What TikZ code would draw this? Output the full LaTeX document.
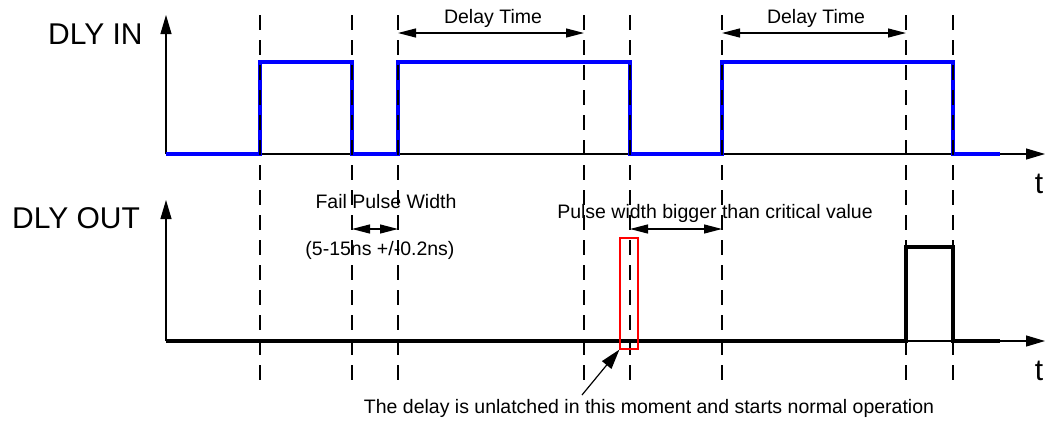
\documentclass[tikz,border=0pt]{standalone}
\usepackage{fontspec}
\setmainfont{Liberation Sans}
\usetikzlibrary{arrows.meta}

\begin{document}
\begin{tikzpicture}[x=1pt,y=-1pt,
    axis/.style={-{Triangle[length=19pt,width=11pt]},line width=1.2pt},
    marker/.style={dash pattern=on 15pt off 10pt,line width=1.2pt},
    sigin/.style={blue,line width=3.5pt},
    sigout/.style={black,line width=3.5pt},
    span/.style={{Triangle[length=18pt,width=9pt]}-{Triangle[length=18pt,width=9pt]},line width=1.2pt},
    note/.style={-{Triangle[length=20pt,width=12pt]},line width=1.2pt},
    small/.style={inner sep=0pt,font=\fontsize{19.5}{22}\selectfont},
    big/.style={inner sep=0pt,font=\fontsize{30}{33}\selectfont}]
    \useasboundingbox (0,0) rectangle (1045,421);

    % axes
    \coordinate(In0)at(166, 154);
    \coordinate(InTop)at(166, 15);
    \coordinate(InEnd)at(1045, 154);
    \coordinate(Out0)at(166, 341);
    \coordinate(OutTop)at(166, 200);
    \coordinate(OutEnd)at(1045, 341);
    \draw[axis](In0) -- (InTop);
    \draw[axis](In0) -- (InEnd);
    \draw[axis](Out0) -- (OutTop);
    \draw[axis](Out0) -- (OutEnd);

    \node[big,anchor=base west](DlyIn)at(48, 44){DLY IN};
    \node[big,anchor=base west](DlyOut)at(12, 228){DLY OUT};
    \node[big,anchor=base](TIn)at(1039, 193){t};
    \node[big,anchor=base](TOut)at(1039, 380){t};

    % signals
    \draw[sigin](166, 154) -- (260, 154) -- (260, 62) -- (352, 62) -- (352, 154)
        -- (398, 154) -- (398, 62) -- (630, 62) -- (630, 154) -- (722, 154)
        -- (722, 62) -- (953, 62) -- (953, 154) -- (1000, 154);
    \draw[sigout](166, 341) -- (906, 341) -- (906, 247) -- (953, 247)
        -- (953, 341) -- (1000, 341);

    % time markers
    \foreach \name/\x in {A/260, B/352, C/398, D/584, E/630, F/722, G/906, H/953}{
        \coordinate(\name top)at(\x, 15);
        \coordinate(\name bot)at(\x, 388);
        \draw[marker](\name top) -- (\name bot);
    }

    % delay times
    \coordinate(D1a)at(398, 33);
    \coordinate(D1b)at(584, 33);
    \coordinate(D2a)at(722, 33);
    \coordinate(D2b)at(906, 33);
    \draw[span](D1a) -- (D1b);
    \draw[span](D2a) -- (D2b);
    \node[small,anchor=base](Delay1)at(493, 23){Delay Time};
    \node[small,anchor=base](Delay2)at(816, 23){Delay Time};

    % fail pulse
    \coordinate(Fa)at(352, 229);
    \coordinate(Fb)at(398, 229);
    \draw[span](Fa) -- (Fb);
    \node[small,anchor=base](Fail)at(386, 208){Fail Pulse Width};
    \node[small,anchor=base](FailVal)at(380, 255){(5-15ns +/-0.2ns)};

    % critical pulse
    \coordinate(Ca)at(630, 229);
    \coordinate(Cb)at(722, 229);
    \draw[span](Ca) -- (Cb);
    \node[small,anchor=base](Crit)at(715, 218){Pulse width bigger than critical value};

    % unlatch moment
    \node[draw=red,line width=1.2pt,inner sep=0pt,minimum width=18pt,minimum height=111pt](Mark)at(629, 293.5){};
    \coordinate(NoteTail)at(582, 395);
    \draw[note](NoteTail) -- (Mark.south west);
    \node[small,anchor=base](Note)at(649, 413){The delay is unlatched in this moment and starts normal operation};
\end{tikzpicture}
\end{document}
